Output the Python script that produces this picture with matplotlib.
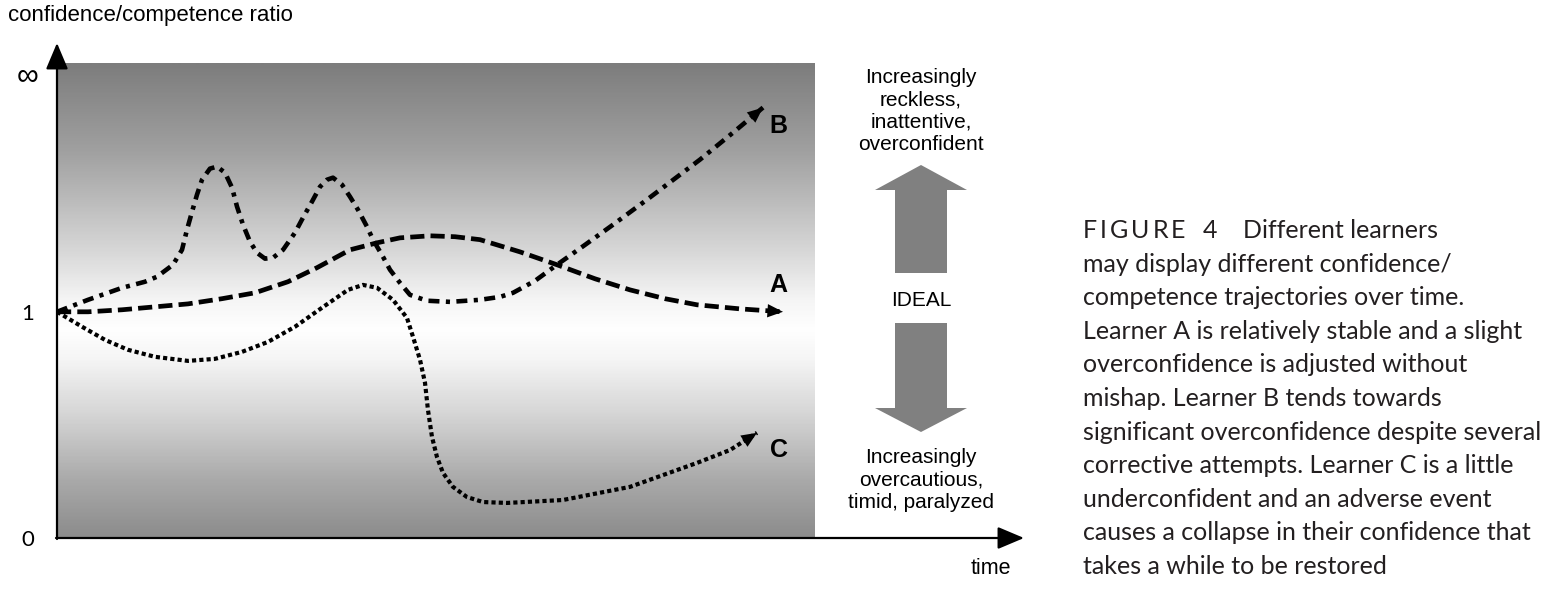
import numpy as np
import matplotlib
matplotlib.use("Agg")
import matplotlib.pyplot as plt
from matplotlib.colors import LinearSegmentedColormap
from matplotlib.patches import Polygon

W, H = 1557, 596
SANS = ["Liberation Sans", "DejaVu Sans"]
CAPTION_FONT = ["Lato", "DejaVu Sans"]

# ── trajectories (time 0..100 across the shaded box, ratio: 0, 1, top = ∞) ──
time_a  = [0, 4.09, 8.58, 12.93, 17.28, 21.77, 26.12, 30.47, 34.30, 38.65, 42.22,
           45.25, 49.21, 52.51, 55.80, 61.08, 65.96, 70.98, 75.59, 80.21, 84.43,
           90.11, 95.78]
ratio_a = [1.000, 1.000, 1.009, 1.022, 1.035, 1.058, 1.084, 1.133, 1.195, 1.274, 1.305,
           1.327, 1.336, 1.332, 1.319, 1.265, 1.208, 1.146, 1.097, 1.058, 1.031,
           1.013, 1.000]

time_b  = [0, 4.09, 8.58, 11.61, 13.19, 15.30, 16.49, 17.15, 17.81, 18.47,
           19.13, 20.18, 21.11, 22.16, 23.09, 23.75, 24.54, 25.46, 26.39, 27.44,
           28.50, 29.82, 31.40, 32.45, 33.64, 34.70, 35.62, 36.41, 37.60, 38.65,
           39.71, 40.90, 41.69, 43.01, 43.93, 45.25, 46.57, 48.81, 51.85, 55.80,
           58.44, 60.16, 63.06, 65.96, 69.66, 73.35, 77.84, 84.83, 89.18, 93.14]
ratio_b = [1.000, 1.053, 1.106, 1.133, 1.155, 1.208, 1.274, 1.363, 1.442, 1.518,
           1.584, 1.633, 1.642, 1.615, 1.549, 1.465, 1.385, 1.310, 1.261, 1.235,
           1.239, 1.274, 1.350, 1.416, 1.487, 1.553, 1.584, 1.593, 1.562, 1.509,
           1.451, 1.376, 1.319, 1.243, 1.186, 1.128, 1.075, 1.049, 1.044, 1.053,
           1.066, 1.084, 1.137, 1.208, 1.296, 1.385, 1.496, 1.673, 1.792, 1.903]

time_c  = [0, 0.66, 3.30, 6.33, 9.37, 12.93, 17.28, 20.84, 24.41, 27.84,
           31.40, 34.96, 38.39, 40.37, 42.22, 44.33, 46.17, 46.97, 47.89, 48.55,
           48.94, 49.47, 50.13, 50.92, 52.24, 54.09, 56.20, 59.37, 66.75, 75.59,
           84.43, 88.79, 92.35]
ratio_c = [1.000, 0.987, 0.934, 0.876, 0.832, 0.801, 0.783, 0.792, 0.823, 0.867,
           0.934, 1.018, 1.097, 1.119, 1.106, 1.053, 0.973, 0.889, 0.788, 0.686,
           0.566, 0.447, 0.358, 0.288, 0.226, 0.181, 0.159, 0.155, 0.168, 0.226,
           0.332, 0.389, 0.465]

LEARNERS = ["A", "B", "C"]
Y_TICKS = [0, 1, 2.06]
Y_LABELS = ["0", "1", "∞"]
Y_TOP = 2.1

# background shade: (fraction of box height from bottom, grey level)
SHADE = [(0.0, 140), (0.122, 170), (0.248, 210), (0.375, 245), (0.438, 255),
         (0.501, 245), (0.606, 215), (0.817, 160), (1.0, 125)]

CAPTION = [
    "may display different confidence/",
    "competence trajectories over time.",
    "Learner A is relatively stable and a slight",
    "overconfidence is adjusted without",
    "mishap. Learner B tends towards",
    "significant overconfidence despite several",
    "corrective attempts. Learner C is a little",
    "underconfident and an adverse event",
    "causes a collapse in their confidence that",
    "takes a while to be restored",
]

fig = plt.figure(figsize=(W / 100, H / 100), dpi=100)

# main plotting box, placed in pixels: x 57..815, y 63..538
ax = fig.add_axes([57 / W, (H - 538) / H, (815 - 57) / W, (538 - 63) / H])
ax.set_xlim(0, 100)
ax.set_ylim(0, Y_TOP)

cmap = LinearSegmentedColormap.from_list(
    "shade", [(p, (g / 255, g / 255, g / 255)) for p, g in SHADE])
grad = np.linspace(1, 0, 400).reshape(-1, 1)
ax.imshow(grad, extent=(0, 100, 0, Y_TOP), origin="upper", cmap=cmap,
          vmin=0, vmax=1, aspect="auto", zorder=0)

styles = {
    "A": dict(ls=(0, (3.0, 1.3)), lw=3.4),
    "B": dict(ls=(0, (2.4, 1.4, 0.9, 1.4)), lw=3.3),
    "C": dict(ls=(0, (1.0, 0.75)), lw=3.0),
}
series = {"A": (time_a, ratio_a), "B": (time_b, ratio_b), "C": (time_c, ratio_c)}
for name in LEARNERS:
    t, r = series[name]
    ax.plot(t, r, color="black", dash_capstyle="butt", dash_joinstyle="round",
            zorder=3, **styles[name])
    ax.annotate("", xy=(t[-1], r[-1]), xytext=(t[-2], r[-2]),
                arrowprops=dict(arrowstyle="-|>,head_length=0.7,head_width=0.3",
                                color="black", lw=0, mutation_scale=16,
                                shrinkA=0, shrinkB=0), zorder=4)

label_pos = {"A": (95.2, 1.12), "B": (95.2, 1.82), "C": (95.2, 0.39)}
for name in LEARNERS:
    ax.text(*label_pos[name], name, fontsize=18, fontweight="bold",
            family=SANS, ha="center", va="center", zorder=5)

ax.set_yticks(Y_TICKS)
ax.set_yticklabels(Y_LABELS, family=CAPTION_FONT, fontsize=16)
for lab in ax.get_yticklabels():
    lab.set_ha("center")
    if lab.get_text() == "∞":
        lab.set_fontsize(22)
        lab.set_family(SANS)
ax.tick_params(axis="y", length=0, pad=21)
ax.set_xticks([])
for s in ax.spines.values():
    s.set_visible(False)

# overlay in pixel coordinates for axes arrows and side annotations
ov = fig.add_axes([0, 0, 1, 1], zorder=5)
ov.set_xlim(0, W)
ov.set_ylim(H, 0)
ov.axis("off")
ov.patch.set_visible(False)

axis_arrow = dict(arrowstyle="-|>,head_length=0.9,head_width=0.38",
                  color="black", lw=1.6, mutation_scale=18, shrinkA=0, shrinkB=0)
ov.annotate("", xy=(57, 43), xytext=(57, 539), arrowprops=axis_arrow)
ov.annotate("", xy=(1024, 538), xytext=(56, 538), arrowprops=axis_arrow)

ov.text(8, 16, "confidence/competence ratio", fontsize=16, family=SANS,
        ha="left", va="center")
ov.text(991, 568, "time", fontsize=15.5, family=SANS, ha="center", va="center")

grey = "#808080"
ov.add_patch(Polygon([(921, 165), (967, 190), (947, 190), (947, 273),
                      (895, 273), (895, 190), (875, 190)], closed=True,
                     fc=grey, ec="none"))
ov.add_patch(Polygon([(895, 323), (947, 323), (947, 408), (967, 408),
                      (921, 432), (875, 408), (895, 408)], closed=True,
                     fc=grey, ec="none"))

ov.text(921, 111, "Increasingly\nreckless,\ninattentive,\noverconfident",
        fontsize=15, family=SANS, ha="center", va="center", linespacing=1.22)
ov.text(921, 300, "IDEAL", fontsize=15, family=SANS, ha="center", va="center")
ov.text(921, 480, "Increasingly\novercautious,\ntimid, paralyzed",
        fontsize=15, family=SANS, ha="center", va="center", linespacing=1.22)

# caption, "FIGURE" letter-spaced
cap_color = "#231f20"
renderer = fig.canvas.get_renderer()
x = 1083.0
for ch in "FIGURE":
    t = ov.text(x, 238, ch, fontsize=18, family=CAPTION_FONT, color=cap_color,
                ha="left", va="baseline")
    x += t.get_window_extent(renderer).width + 3
ov.text(1203, 238, "4", fontsize=18, family=CAPTION_FONT, color=cap_color,
        ha="left", va="baseline")
ov.text(1243, 238, "Different learners", fontsize=18, family=CAPTION_FONT,
        color=cap_color, ha="left", va="baseline")
for i, line in enumerate(CAPTION):
    ov.text(1083, 238 + 33.6 * (i + 1), line, fontsize=18, family=CAPTION_FONT,
            color=cap_color, ha="left", va="baseline")

fig.savefig("out.png", dpi=100)
